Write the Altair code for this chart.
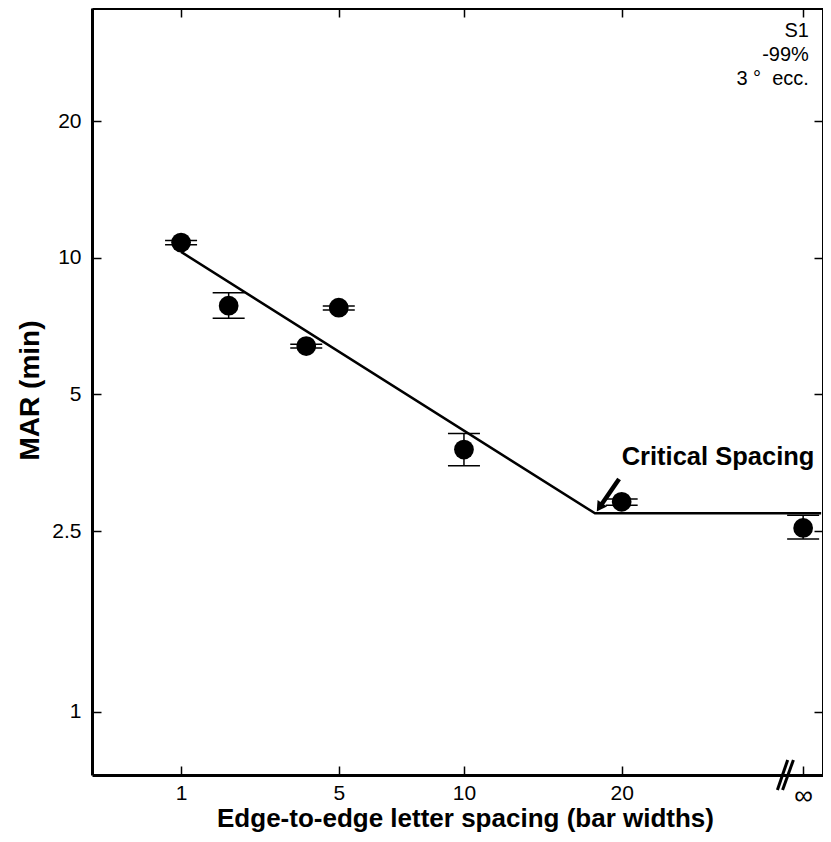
import altair as alt
import pandas as pd

# ---- data ----
spacing = [1, 2, 4, 5, 10, 20, 40]          # 40 stands for the "infinity" condition
mar = [10.8, 7.84, 6.39, 7.76, 3.78, 2.90, 2.54]
mar_lo = [10.68, 7.36, 6.33, 7.67, 3.48, 2.85, 2.40]
mar_hi = [10.91, 8.37, 6.45, 7.83, 4.10, 2.94, 2.71]

fit_spacing = [1, 17.93, 42.7]
fit_mar = [10.3, 2.735, 2.735]

x_ticks = [1, 5, 10, 20, 40]
y_ticks = [1, 2.5, 5, 10, 20]

info_lines = ["S1", "-99%", "3\u00a0\u00b0\u00a0\u00a0ecc."]
info_y = [31.6, 27.9, 24.75]
info_x = 40.85

crit_label = "Critical Spacing"
crit_pos = (20.0, 3.645)
arrow_from = (19.79, 3.255)
arrow_to = (18.39, 2.853)
arrow_head = (18.27, 2.82)

break_x_bottom = [36.4, 37.1]
break_x_top = [37.8, 38.6]

FONT = "Liberation Sans"
W, H = 731, 767
X_DOMAIN = [-0.56, 42.99]
Y_DOMAIN = [0.7256, 35.48]

xs = alt.Scale(type="symlog", constant=5, domain=X_DOMAIN, nice=False)
ys = alt.Scale(type="log", domain=Y_DOMAIN, nice=False)

common_axis = dict(
    tickSize={"expr": "-9"}, tickColor="black", tickWidth=1.5,
    domainColor="black", domainWidth=3, grid=False,
    labelFont=FONT, labelColor="black",
)

x_axis = alt.Axis(
    values=x_ticks,
    labelExpr="datum.value == 40 ? '\u221e' : '' + datum.value",
    labelFontSize={"condition": {"test": "datum.value == 40", "value": 26}, "value": 21},
    labelPadding=16,
    title="Edge-to-edge letter spacing (bar widths)",
    titleFont=FONT, titleFontSize=26, titleFontWeight="bold", titleColor="black",
    titleX=373, titleY=43, titleAlign="center", titleBaseline="middle",
    **common_axis,
)
y_axis = alt.Axis(
    values=y_ticks, format="~g", labelPadding=20, labelFontSize=21,
    title="MAR (min)",
    titleFont=FONT, titleFontSize=28, titleFontWeight="bold", titleColor="black",
    titleX=-62, titleY=382, titleAlign="center", titleBaseline="middle", titleAngle=-90,
    **common_axis,
)
x_top = alt.Axis(orient="top", values=x_ticks, labels=False, title=None, **common_axis)
y_right = alt.Axis(orient="right", values=y_ticks, labels=False, title=None, **common_axis)

df = pd.DataFrame({"spacing": spacing, "mar": mar, "lo": mar_lo, "hi": mar_hi})
fit = pd.DataFrame({"spacing": fit_spacing, "mar": fit_mar})

line = alt.Chart(fit).mark_line(color="black", strokeWidth=2.5).encode(
    x=alt.X("spacing:Q", scale=xs, axis=x_axis),
    y=alt.Y("mar:Q", scale=ys, axis=y_axis),
)

stems = alt.Chart(df).mark_rule(color="black", strokeWidth=1.5).encode(
    x=alt.X("spacing:Q", scale=xs, axis=None),
    y=alt.Y("lo:Q", scale=ys, axis=None),
    y2="hi:Q",
)
cap_lo = alt.Chart(df).mark_tick(orient="horizontal", size=32, thickness=1.5, color="black", opacity=1).encode(
    x=alt.X("spacing:Q", scale=xs, axis=None),
    y=alt.Y("lo:Q", scale=ys, axis=None),
)
cap_hi = alt.Chart(df).mark_tick(orient="horizontal", size=32, thickness=1.5, color="black", opacity=1).encode(
    x=alt.X("spacing:Q", scale=xs, axis=None),
    y=alt.Y("hi:Q", scale=ys, axis=None),
)
points = alt.Chart(df).mark_circle(size=390, color="black", opacity=1).encode(
    x=alt.X("spacing:Q", scale=xs, axis=x_top),
    y=alt.Y("mar:Q", scale=ys, axis=y_right),
)

info_df = pd.DataFrame({"x": [info_x] * len(info_lines), "y": info_y, "t": info_lines})
info = alt.Chart(info_df).mark_text(align="right", baseline="middle", fontSize=20, font=FONT, color="black").encode(
    x=alt.X("x:Q", scale=xs, axis=None),
    y=alt.Y("y:Q", scale=ys, axis=None),
    text="t:N",
)

crit_df = pd.DataFrame({"x": [crit_pos[0]], "y": [crit_pos[1]], "t": [crit_label]})
crit = alt.Chart(crit_df).mark_text(align="left", baseline="middle", fontSize=25.5, fontWeight="bold", font=FONT, color="black").encode(
    x=alt.X("x:Q", scale=xs, axis=None),
    y=alt.Y("y:Q", scale=ys, axis=None),
    text="t:N",
)

arrow_df = pd.DataFrame({"x": [arrow_from[0]], "y": [arrow_from[1]], "x2": [arrow_to[0]], "y2": [arrow_to[1]]})
shaft = alt.Chart(arrow_df).mark_rule(color="black", strokeWidth=4.5).encode(
    x=alt.X("x:Q", scale=xs, axis=None), x2="x2:Q",
    y=alt.Y("y:Q", scale=ys, axis=None), y2="y2:Q",
)
head_df = pd.DataFrame({"x": [arrow_head[0]], "y": [arrow_head[1]]})
head = alt.Chart(head_df).mark_point(shape="triangle-up", filled=True, size=130, angle=214, color="black", opacity=1).encode(
    x=alt.X("x:Q", scale=xs, axis=None),
    y=alt.Y("y:Q", scale=ys, axis=None),
)

brk_df = pd.DataFrame({"x": break_x_bottom, "x2": break_x_top})
brk = alt.Chart(brk_df).mark_rule(color="black", strokeWidth=3).encode(
    x=alt.X("x:Q", scale=xs, axis=None), x2="x2:Q",
    y=alt.value(H + 15), y2=alt.value(H - 15),
)

chart = alt.layer(line, stems, cap_lo, cap_hi, points, info, crit, shaft, head, brk).resolve_axis(
    x="independent", y="independent"
).properties(
    width=W, height=H,
    autosize=alt.AutoSizeParams(type="none"),
    padding={"left": 84, "top": 0, "right": 0, "bottom": 58},
).configure_view(stroke=None)

chart.save("out.html", embed_options={"renderer": "svg", "actions": False})
